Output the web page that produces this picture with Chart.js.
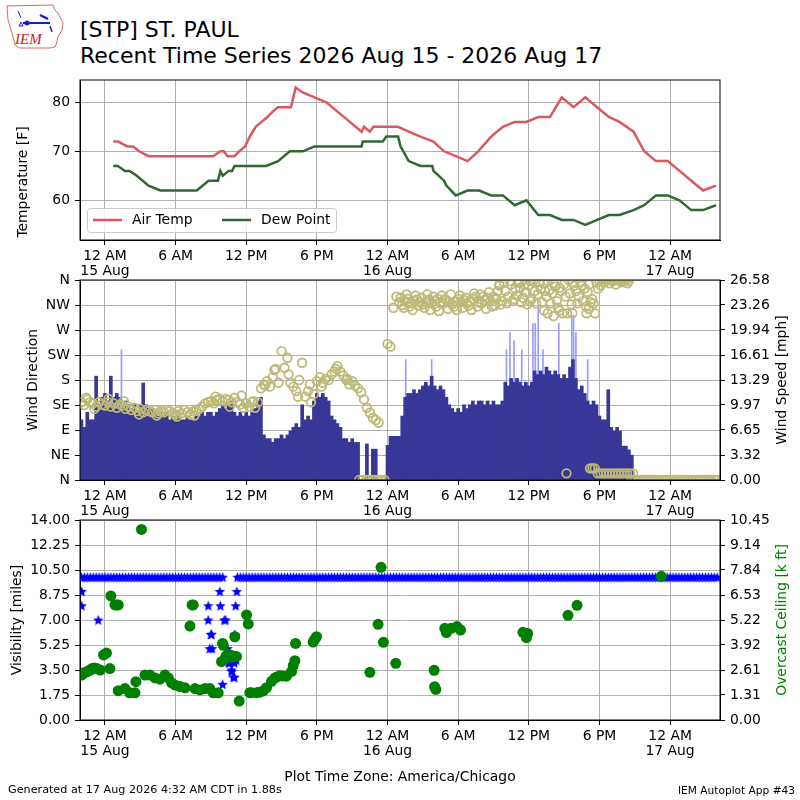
<!DOCTYPE html>
<html>
<head>
<meta charset="utf-8">
<script src="https://cdn.jsdelivr.net/npm/chart.js@4.4.1/dist/chart.umd.min.js"></script>
<style>
  body { margin: 0; width: 800px; height: 800px; position: relative; background: #fff; overflow: hidden;
         font-family: "DejaVu Sans", sans-serif; }
  canvas { position: absolute; left: 0; }
  .txt { position: absolute; white-space: nowrap; color: #000; line-height: 1; }
</style>
</head>
<body>
<svg style="position:absolute;left:0;top:0" width="80" height="55">
  <path d="M7,6 L53,5 L55,10 L58,13 L63,23 L62,30 L58,37 L57,42 L55,47 L50,48 L20,48 L15,45 L12,33 L8,20 Z"
        fill="none" stroke="#e06666" stroke-width="1"/>
  <line x1="23" y1="23" x2="50" y2="23" stroke="#1a1adb" stroke-width="2"/>
  <circle cx="27" cy="23" r="2.5" fill="#1a1adb"/>
  <line x1="40" y1="15" x2="48" y2="19" stroke="#1a1adb" stroke-width="2.5"/>
  <line x1="18" y1="11" x2="21" y2="18" stroke="#1a1adb" stroke-width="1"/>
  <path d="M19,26 L21,22 L23,26 Z" fill="none" stroke="#1a1adb" stroke-width="1"/>
  <line x1="50" y1="26" x2="52" y2="32" stroke="#1a1adb" stroke-width="1.5"/>
  <text x="15" y="44" font-family="Liberation Serif" font-style="italic" font-size="15" fill="#cc2222">IEM</text>
</svg>
<div class="txt" style="left:80px;top:19px;font-size:22px">[STP] ST. PAUL</div>
<div class="txt" style="left:80px;top:44.7px;font-size:22px">Recent Time Series 2026 Aug 15 - 2026 Aug 17</div>

<canvas id="tempChart" width="800" height="215" style="top:65px"></canvas>
<canvas id="windChart" width="800" height="255" style="top:265px"></canvas>
<canvas id="visChart" width="800" height="255" style="top:505px"></canvas>

<div class="txt" style="left:0;width:800px;text-align:center;top:770px;font-size:13.9px">Plot Time Zone: America/Chicago</div>
<div class="txt" style="left:8px;top:784px;font-size:11.2px">Generated at 17 Aug 2026 4:32 AM CDT in 1.88s</div>
<div class="txt" style="right:5px;top:784.5px;font-size:10.6px">IEM Autoplot App #43</div>

<script>
// hours after 15 Aug 00:00 local time
const hourMin = -2.12, hourMax = 52.24;
const xTickHours = [0, 6, 12, 18, 24, 30, 36, 42, 48];
const xTickTimes = ['12 AM', '6 AM', '12 PM', '6 PM', '12 AM', '6 AM', '12 PM', '6 PM', '12 AM'];
const xTickDates = ['15 Aug', '', '', '', '16 Aug', '', '', '', '17 Aug'];

// Temperature panel
const tempTicks = [60, 70, 80];
const tempTimes = [0.7, 1.1, 1.9, 2.4, 2.9, 3.7, 4.7, 5.7, 6.7, 7.7, 8.7, 9.2, 9.8, 10.1, 10.4, 11.0, 11.4, 11.9, 12.3, 12.8,
  13.3, 13.8, 14.2, 14.7, 15.8, 16.2, 16.8, 17.8, 18.8, 19.8, 20.8, 21.8, 22.0, 22.5, 22.8, 23.8, 24.9, 25.8, 26.8, 27.9,
  28.8, 29.8, 30.8, 31.7, 32.8, 33.8, 34.8, 35.8, 36.8, 37.8, 38.8, 39.8, 40.8, 41.8, 42.8, 43.7, 44.9, 45.8, 46.8, 47.8,
  48.8, 49.8, 50.8, 51.9];
const airTemp = [72, 72, 71, 71, 70, 69, 69, 69, 69, 69, 69, 69, 70, 70, 69, 69, 70, 71, 73, 75,
  76, 77, 78, 79, 79, 83, 82, 81, 80, 78, 76, 74, 75, 74, 75, 75, 75, 74, 73, 72,
  70, 69, 68, 70, 73, 75, 76, 76, 77, 77, 81, 79, 81, 79, 77, 76, 74, 70, 68, 68,
  66, 64, 62, 63];
const dewTimes = [0.7, 1.1, 1.7, 2.1, 2.7, 3.7, 4.7, 7.8, 8.8, 9.6, 9.8, 10.0, 10.5, 10.8, 11.0, 13.7, 14.7, 15.7, 16.8, 17.8,
  21.8, 21.9, 23.6, 23.9, 24.9, 25.1, 25.8, 26.8, 27.8, 27.9, 28.8, 29.0, 29.8, 30.8, 31.8, 32.8, 33.8, 34.8, 35.8, 36.8,
  37.8, 38.8, 39.8, 40.8, 41.8, 42.8, 43.7, 44.9, 45.8, 46.8, 47.8, 48.8, 49.8, 50.8, 51.9];
const dewPoint = [67, 67, 66, 66, 65, 63, 62, 62, 64, 64, 66, 65, 66, 66, 67, 67, 68, 70, 70, 71,
  71, 72, 72, 73, 73, 71, 68, 67, 67, 66, 64, 63, 61, 62, 62, 61, 61, 59, 60, 57,
  57, 56, 56, 55, 56, 57, 57, 58, 59, 61, 61, 60, 58, 58, 59];

// Wind panel (15 minute samples starting at windStart)
const dirTickValues = [0, 45, 90, 135, 180, 225, 270, 315, 360];
const dirTickLabels = ['N', 'NE', 'E', 'SE', 'S', 'SW', 'W', 'NW', 'N'];
const speedMax = 26.58;
const speedTickLabels = ['0.00', '3.32', '6.65', '9.97', '13.29', '16.61', '19.94', '23.26', '26.58'];
const windStart = -2, windStep = 0.25;
const windSpeed = [
  8, 7, 9, 8,   8, 13.8, 10, 11,   11.5, 10.5, 13.8, 11,   11.5, 11, 10, 10.5,
  10, 9.5, 10, 9,   10, 12.9, 10, 9.5,   9.5, 9, 8.5, 9,   8.5, 9, 8, 8.5,
  8, 8.5, 8, 8,   8.5, 8, 8, 8.5,   8.5, 9, 8.5, 9,   9, 8.5, 9, 9.5,
  10, 9.5, 10, 10.5,   9, 8.5, 9, 8.5,   9, 8.5, 9, 9.5,   10.5, 11, 6, 5.5,
  5.5, 5, 5.5, 5.5,   6, 5.5, 6, 6.5,   7, 7.5, 7, 10,   8, 8.5, 8, 10.5,
  11.5, 11, 11.5, 11,   10.5, 8.5, 8, 7.5,   7, 5.5, 5.5, 5,   5.5, 5, 5, 0,
  0, 4.8, 0, 4.1,   4.1, 0, 0, 0,   4.6, 5.8, 5.8, 5.8,   5.8, 8.5, 11, 11.5,
  11.5, 12, 11.5, 12,   12.5, 13, 12.5, 13.8,   12.5, 12, 12.5, 12,   11, 10, 9.5, 9,
  9.5, 9, 10, 9.5,   10, 10.5, 10, 10.5,   10.5, 10, 10.5, 10,   10.5, 10, 10, 10.5,
  13, 12.5, 13.5, 13,   13.5, 13, 12.5, 13,   12.5, 13, 14.5, 14,   14.5, 14, 15, 14.5,
  14, 14.5, 14, 13.5,   14, 13.5, 15, 16,   13.5, 12, 12.5, 11.5,   10.5, 10, 10.5, 10,
  8.5, 8, 8, 12,   7, 6.5, 7, 6.5,   4.5, 4.5, 4, 3.3,   0, 0, 0, 0,
  0, 0, 0, 0,   0, 0, 0, 0,   0, 0, 0, 0,   0, 0, 0, 0,
  0, 0, 0, 0,   0, 0, 0, 0,   0
];
const windDir = [
  140, 135, 145, 140,   138, 132, 140, 136,   134, 140, 132, 138,   130, 136, 134, 128,
  132, 126, 130, 124,   128, 122, 126, 124,   122, 126, 120, 124,   122, 126, 124, 120,
  118, 124, 120, 126,   122, 118, 124, 126,   128, 132, 138, 140,   142, 138, 144, 146,
  142, 146, 144, 140,   148, 140, 136, 130,   138, 132, 140, 130,   140, 165, 172, 178,
  168, 185, 200, 175,   232, 202, 220, 175,   168, 160, 180, 211,   150, 160, 140, 155,
  178, 185, 175, 182,   180, 190, 195, 205,   195, 188, 180, 172,   178, 170, 165, 158,
  145, 130, 121, 112,   108, 103, 0, 0,   245, 240, 310, 330,   320, 315, 322, 326,
  318, 322, 325, 320,   316, 320, 324, 318,   322, 326, 320, 318,   324, 320, 316, 322,
  326, 320, 324, 318,   322, 326, 330, 320,   318, 324, 328, 322,   330, 326, 350, 322,
  340, 330, 352, 326,   332, 346, 328, 338,   350, 326, 340, 334,   344, 354, 330, 342,
  336, 348, 310, 340,   352, 300, 336, 356,   340, 330, 350, 345,   338, 320, 318, 356,
  358, 360, 358, 360,   360, 359, 360, 358,   360, 360, 358, 0,   0, 0, 0, 0,
  0, 0, 0, 0,   0, 0, 0, 0,   0, 0, 0, 0,   0, 0, 0, 0,
  0, 0, 0, 0,   0, 0, 0, 0,   0
];
// in-between direction readings, 25.125 h onward
const windDirMidStart = 25.125;
const windDirMid = [
  328, 310, 334, 312,   306, 332, 314, 328,   310, 334, 306, 330,   312, 304, 332, 326,
  308, 334, 312, 306,   332, 310, 328, 314,   306, 336, 312, 334,   330, 308, 338, 312,
  314, 340, 316, 356,   318, 358, 322, 344,   356, 320, 352, 316,   322, 358, 318, 356,
  320, 340, 358, 318,   354, 322, 346, 300,   330, 360, 316, 350,   318, 356, 322, 312,
  352, 326, 300, 344,   350, 356, 360, 354,   358, 352, 360, 356,   360, 354
];
const extraDirTimes = [21.6, 21.9, 22.2, 22.4, 22.7, 22.9, 23.2, 23.4, 39.2, 41.2, 41.4, 41.6,
  41.85, 42.1, 42.35, 42.6, 42.85, 43.1, 43.35, 43.6, 43.85, 44.1, 44.35, 44.6, 44.85,
  37.3, 37.6, 38.1, 38.6, 39.7, 40.9, 41.1, 35.2, 36.1, 33.5,
  -1.6, -0.9, 0.3, 1.6, 2.9, 4.4, 6.1, 7.6, 9.4, 10.6, 11.6, 12.6, 13.6, 14.4, 15.6, 16.4, 17.4, 18.4, 19.6, 20.6];
const extraDir = [0, 0, 0, 0, 0, 0, 0, 0, 12, 21, 21, 21,
  12, 12, 12, 12, 12, 12, 12, 12, 12, 12, 12, 12, 12,
  305, 300, 295, 305, 300, 300, 308, 355, 358, 352,
  148, 128, 146, 142, 118, 116, 114, 116, 150, 132, 152, 142, 170, 198, 190, 150, 172, 168, 200, 182];
const gustTimes = [1.4, 25.55, 27.75, 34.1, 34.4, 34.75, 35.4, 36.35, 36.55, 36.8, 37.2, 38.55, 39.65, 39.8, 40.0, 41.0];
const gustSpeed = [17.3, 16, 16, 17.3, 19.6, 18.5, 17.3, 20.8, 20.8, 23, 17.3, 20.8, 21.9, 21.9, 19.6, 16];

// Visibility / ceiling panel
const visMax = 14, ceilMax = 10.45;
const visTickLabels = ['0.00', '1.75', '3.50', '5.25', '7.00', '8.75', '10.50', '12.25', '14.00'];
const ceilTickLabels = ['0.00', '1.31', '2.61', '3.92', '5.22', '6.53', '7.84', '9.14', '10.45'];
const visStart = -2, visStep = 0.25;
const visibility = [
  10, 10, 10, 10, 10, 10, 10, 10,   10, 10, 10, 10, 10, 10, 10, 10,
  10, 10, 10, 10, 10, 10, 10, 10,   10, 10, 10, 10, 10, 10, 10, 10,
  10, 10, 10, 10, 10, 10, 10, 10,   10, 10, 10, 10, 10, 10, 10, 10,
  10, 7, 4, 3.5, 3, 10, 10, 10,     10, 10, 10, 10, 10, 10, 10, 10,
  10, 10, 10, 10, 10, 10, 10, 10,   10, 10, 10, 10, 10, 10, 10, 10,
  10, 10, 10, 10, 10, 10, 10, 10,   10, 10, 10, 10, 10, 10, 10, 10,
  10, 10, 10, 10, 10, 10, 10, 10,   10, 10, 10, 10, 10, 10, 10, 10,
  10, 10, 10, 10, 10, 10, 10, 10,   10, 10, 10, 10, 10, 10, 10, 10,
  10, 10, 10, 10, 10, 10, 10, 10,   10, 10, 10, 10, 10, 10, 10, 10,
  10, 10, 10, 10, 10, 10, 10, 10,   10, 10, 10, 10, 10, 10, 10, 10,
  10, 10, 10, 10, 10, 10, 10, 10,   10, 10, 10, 10, 10, 10, 10, 10,
  10, 10, 10, 10, 10, 10, 10, 10,   10, 10, 10, 10, 10, 10, 10, 10,
  10, 10, 10, 10, 10, 10, 10, 10,   10, 10, 10, 10, 10, 10, 10, 10,
  10, 10, 10, 10, 10, 10, 10, 10,   10
];
const visLowTimes = [-1.98, -1.98, -0.57, 8.77, 8.77, 9.05, 9.0, 8.9, 9.1, 9.76, 9.8, 9.99, 10.13, 10.4, 10.6,
  10.77, 10.9, 11.0, 11.03, 11.1, 11.15, 11.2];
const visLow = [9, 8, 7, 8, 7, 6, 6, 5, 5, 9, 8, 2.5, 7, 5, 4, 3.4, 3, 4, 6, 8, 4.2, 9];
const ceilTimes = [-1.98, -1.8, -1.55, -1.3, -1.1, -0.9, -0.7, -0.4, -0.12, 0.13,
  0.42, 0.5, 0.85, 1.0, 1.13, 1.13, 1.7, 2.1, 2.55, 2.63,
  3.1, 3.4, 3.82, 4.25, 4.67, 5.1, 5.38, 5.66, 5.94, 6.37,
  6.8, 7.22, 7.4, 7.5, 7.65, 8.07, 8.5, 8.9, 9.2, 9.62,
  9.9, 9.99, 10.05, 10.19, 10.3, 10.47, 10.6, 10.75, 10.9, 11.03,
  11.17, 11.4, 12.03, 12.17, 12.3, 12.45, 12.88, 13.1, 13.44, 13.72,
  14.15, 14.43, 14.6, 14.85, 15.1, 15.42, 15.85, 15.99, 16.13, 16.19,
  17.68, 17.8, 17.97, 22.5, 23.2, 23.45, 23.65, 24.7, 27.96, 28.0,
  28.1, 28.86, 29.0, 29.4, 29.9, 30.2, 35.5, 35.8, 35.9, 39.33,
  40.1, 47.25];
const ceilKft = [2.35, 2.45, 2.52, 2.6, 2.69, 2.72, 2.69, 2.61, 3.4, 3.5,
  2.69, 6.48, 6.01, 6.01, 6.01, 1.53, 1.64, 1.42, 1.42, 2.0,
  9.96, 2.35, 2.35, 2.2, 2.13, 2.35, 2.2, 1.94, 1.83, 1.75,
  1.68, 4.91, 6.01, 6.01, 1.64, 1.57, 1.64, 1.64, 1.42, 1.42,
  3.05, 4.0, 3.9, 3.21, 3.35, 3.43, 3.4, 3.28, 3.35, 4.35,
  3.32, 0.99, 5.49, 5.02, 1.43, 1.43, 1.43, 1.45, 1.52, 1.69,
  2.02, 2.19, 2.25, 2.31, 2.3, 2.29, 2.54, 2.84, 3.1, 4.0,
  4.07, 4.2, 4.35, 2.49, 5.0, 7.98, 4.06, 2.96, 2.6, 1.74,
  1.6, 4.79, 4.56, 4.79, 4.88, 4.7, 4.58, 4.3, 4.52, 5.47,
  5.99, 7.51];

// helpers
const pairs = (xs, ys) => xs.map((x, i) => ({x: x, y: ys[i]}));
const series = (start, step, ys) => ys.map((y, i) => ({x: start + i * step, y: y}));

const tickFont = {family: 'DejaVu Sans', size: 13.9};
const gridCfg = {color: '#b0b0b0', lineWidth: 1, tickColor: '#000', tickLength: 5, offset: false};

function xAxis() {
  return {
    type: 'linear', min: hourMin, max: hourMax, offset: false,
    afterBuildTicks: s => { s.ticks = xTickHours.map(v => ({value: v})); },
    afterFit: s => { s.height = 40; },
    ticks: {
      color: '#000', font: {family: 'DejaVu Sans', size: 13.9, lineHeight: 1.1}, padding: 3.5,
      autoSkip: false, maxRotation: 0,
      callback: (v, i) => xTickDates[i] ? [xTickTimes[i], xTickDates[i]] : xTickTimes[i]
    },
    grid: Object.assign({}, gridCfg),
    border: {color: '#000', width: 1}
  };
}

function yAxis(pos, min, max, values, labels, drawGrid) {
  return {
    type: 'linear', position: pos, min: min, max: max,
    afterBuildTicks: s => { s.ticks = values.map(v => ({value: v})); },
    afterFit: s => { s.width = 80; },
    ticks: {color: '#000', font: tickFont, padding: 5, autoSkip: false, callback: (v, i) => labels[i]},
    grid: Object.assign({}, gridCfg, {drawOnChartArea: drawGrid}),
    border: {color: '#000', width: 1}
  };
}

// black box around each plot area
const framePlugin = {
  id: 'frame',
  afterDraw(c) {
    const a = c.chartArea, ctx = c.ctx;
    ctx.save();
    ctx.strokeStyle = '#000';
    ctx.lineWidth = 1;
    ctx.strokeRect(a.left, a.top, a.right - a.left, a.bottom - a.top);
    ctx.restore();
  }
};

// axis labels written upward, like the original
function sideTitles(items) {
  return {
    id: 'sideTitles',
    afterDraw(c) {
      const ctx = c.ctx, mid = (c.chartArea.top + c.chartArea.bottom) / 2;
      ctx.save();
      ctx.font = '13.9px "DejaVu Sans"';
      ctx.textAlign = 'center';
      ctx.textBaseline = 'middle';
      items.forEach(t => {
        ctx.save();
        ctx.translate(t.x, mid + (t.dy || 0));
        ctx.rotate(-Math.PI / 2);
        ctx.fillStyle = t.color || '#000';
        ctx.fillText(t.text, 0, 0);
        ctx.restore();
      });
      ctx.restore();
    }
  };
}

// legend drawn inside the temperature plot
const tempLegend = {
  id: 'tempLegend',
  afterDraw(c) {
    const ctx = c.ctx, a = c.chartArea;
    const x0 = a.left + 7, y0 = a.bottom - 32, w = 249, h = 24;
    ctx.save();
    ctx.beginPath();
    ctx.roundRect(x0 + 0.5, y0 + 0.5, w, h, 3);
    ctx.fillStyle = 'rgba(255,255,255,0.8)';
    ctx.fill();
    ctx.strokeStyle = '#cccccc';
    ctx.lineWidth = 1;
    ctx.stroke();
    ctx.font = '13.9px "DejaVu Sans"';
    ctx.textBaseline = 'middle';
    c.data.datasets.forEach((d, i) => {
      const lx = x0 + 6 + i * 129, ly = y0 + h / 2;
      ctx.beginPath();
      ctx.moveTo(lx, ly);
      ctx.lineTo(lx + 29, ly);
      ctx.strokeStyle = d.borderColor;
      ctx.lineWidth = 2.5;
      ctx.stroke();
      ctx.fillStyle = '#000';
      ctx.fillText(d.label, lx + 39, ly + 0.5);
    });
    ctx.restore();
  }
};

function starImage(size, color) {
  const c = document.createElement('canvas');
  c.width = c.height = size;
  const g = c.getContext('2d'), r = size / 2, ri = r * 0.45;
  g.beginPath();
  for (let k = 0; k < 10; k++) {
    const ang = -Math.PI / 2 + k * Math.PI / 5, rr = k % 2 ? ri : r;
    g.lineTo(r + rr * Math.cos(ang), r + 0.5 + rr * Math.sin(ang));
  }
  g.closePath();
  g.fillStyle = color;
  g.fill();
  return c;
}

const common = {responsive: false, animation: false, events: []};

// Temperature
new Chart(document.getElementById('tempChart'), {
  type: 'line',
  data: {
    datasets: [
      {label: 'Air Temp', data: pairs(tempTimes, airTemp), borderColor: 'rgb(218,88,94)', borderWidth: 2.5,
       pointRadius: 0, tension: 0, clip: 0},
      {label: 'Dew Point', data: pairs(dewTimes, dewPoint), borderColor: 'rgb(46,105,48)', borderWidth: 2.5,
       pointRadius: 0, tension: 0, clip: 0}
    ]
  },
  options: Object.assign({}, common, {
    layout: {padding: {top: 15, right: 80, left: 0, bottom: 0}},
    plugins: {legend: {display: false}, tooltip: {enabled: false}},
    scales: {
      x: xAxis(),
      y: yAxis('left', 51.9, 84.55, tempTicks, tempTicks.map(String), true)
    }
  }),
  plugins: [framePlugin, tempLegend, sideTitles([{text: 'Temperature [F]', x: 23, dy: 22}])]
});

// Wind direction and speed
const dirPoints = series(windStart, windStep, windDir)
  .concat(series(windDirMidStart, windStep, windDirMid))
  .concat(pairs(extraDirTimes, extraDir));

new Chart(document.getElementById('windChart'), {
  type: 'bar',
  data: {
    datasets: [
      {type: 'scatter', label: 'Wind Direction', yAxisID: 'yDir', data: dirPoints,
       pointRadius: 4.3, pointBorderWidth: 1.8, borderColor: 'rgb(189,186,120)', backgroundColor: 'rgba(0,0,0,0)',
       order: 0, clip: 0},
      {type: 'bar', label: 'Wind Speed', yAxisID: 'ySpd', data: series(windStart, windStep, windSpeed),
       backgroundColor: 'rgb(56,54,150)', barThickness: 3, grouped: false, order: 1, clip: 0},
      {type: 'bar', label: 'Wind Gust', yAxisID: 'ySpd', data: pairs(gustTimes, gustSpeed),
       backgroundColor: '#9a9aff', barThickness: 1, grouped: false, order: 2, clip: 0}
    ]
  },
  options: Object.assign({}, common, {
    layout: {padding: {top: 15, right: 0, left: 0, bottom: 0}},
    plugins: {legend: {display: false}, tooltip: {enabled: false}},
    scales: {
      x: xAxis(),
      yDir: yAxis('left', 0, 360, dirTickValues, dirTickLabels, true),
      ySpd: yAxis('right', 0, speedMax, speedTickLabels.map(Number), speedTickLabels, false)
    }
  }),
  plugins: [framePlugin, sideTitles([{text: 'Wind Direction', x: 33}, {text: 'Wind Speed [mph]', x: 782}])]
});

// Visibility and ceiling
new Chart(document.getElementById('visChart'), {
  type: 'scatter',
  data: {
    datasets: [
      {label: 'Overcast Ceiling', yAxisID: 'yCeil', data: pairs(ceilTimes, ceilKft),
       pointRadius: 5.5, backgroundColor: '#008000', borderColor: '#008000', pointBorderWidth: 0, order: 0, clip: 0},
      {label: 'Visibility', yAxisID: 'yVis',
       data: series(visStart, visStep, visibility).concat(pairs(visLowTimes, visLow)),
       pointStyle: starImage(11, '#0000ff'), pointRadius: 5, order: 1, clip: 0}
    ]
  },
  options: Object.assign({}, common, {
    layout: {padding: {top: 15, right: 0, left: 0, bottom: 0}},
    plugins: {legend: {display: false}, tooltip: {enabled: false}},
    scales: {
      x: xAxis(),
      yVis: yAxis('left', 0, visMax, visTickLabels.map(Number), visTickLabels, true),
      yCeil: yAxis('right', 0, ceilMax, ceilTickLabels.map(Number), ceilTickLabels, false)
    }
  }),
  plugins: [framePlugin, sideTitles([{text: 'Visibility [miles]', x: 17.5},
                                     {text: 'Overcast Ceiling [k ft]', x: 782, color: '#008000'}])]
});
</script>
</body>
</html>
